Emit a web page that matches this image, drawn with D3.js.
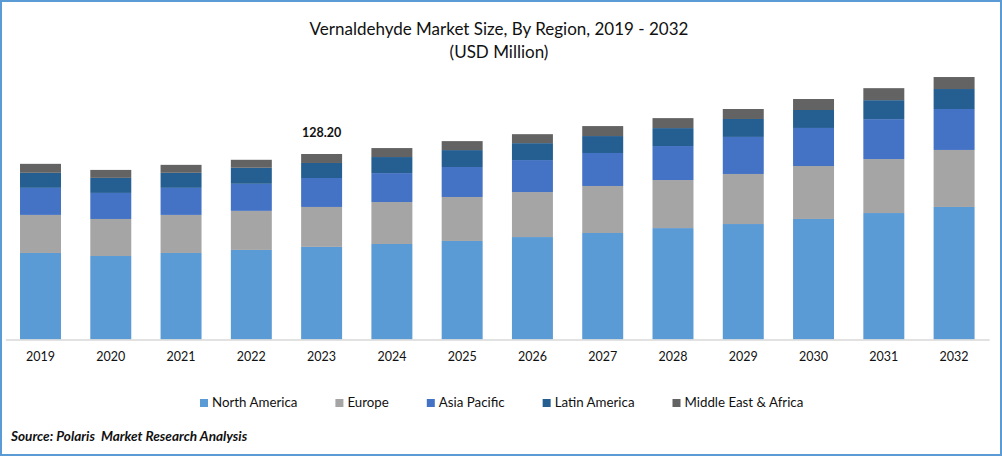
<!DOCTYPE html>
<html>
<head>
<meta charset="utf-8">
<script src="https://cdn.jsdelivr.net/npm/d3@7"></script>
<style>
  html, body { margin: 0; padding: 0; background: #fff; }
  svg { display: block; }
  text { font-family: Lato, "Open Sans", sans-serif; fill: #111; }
</style>
</head>
<body>
<div id="chart"></div>
<script>
const years = ["2019","2020","2021","2022","2023","2024","2025","2026","2027","2028","2029","2030","2031","2032"];
const regions = ["North America","Europe","Asia Pacific","Latin America","Middle East & Africa"];
const colors = ["#5b9bd5","#a5a5a5","#4472c4","#255e91","#636363"];

// USD million
const northAmerica = [59.8,57.7,59.8,61.9,64.0,66.0,68.1,70.8,73.6,77.0,79.8,83.3,87.4,91.6];
const europe = [26.3,25.6,26.3,27.0,27.6,29.0,30.4,31.1,32.5,33.2,34.6,36.6,37.3,39.4];
const asiaPacific = [18.7,18.0,18.7,18.7,20.0,20.0,20.7,22.1,22.8,23.5,25.6,26.3,27.6,28.3];
const latinAmerica = [10.4,10.4,10.4,11.1,10.4,11.1,11.7,11.7,11.7,12.4,12.4,12.4,13.1,13.8];
const middleEast = [6.2,5.5,5.5,5.5,6.2,6.2,6.2,6.2,6.9,6.9,6.9,7.6,8.3,8.3];

const annotatedYear = "2023";
const annotatedLabel = "128.20";

const width = 1002, height = 456;

const table = years.map((y, i) => ({
    year: y,
    "North America": northAmerica[i],
    "Europe": europe[i],
    "Asia Pacific": asiaPacific[i],
    "Latin America": latinAmerica[i],
    "Middle East & Africa": middleEast[i]
}));

const svg = d3.select("#chart").append("svg")
    .attr("width", width)
    .attr("height", height);

svg.append("rect")
    .attr("x", 1).attr("y", 1)
    .attr("width", width - 2).attr("height", height - 2)
    .attr("fill", "#fff")
    .attr("stroke", "#5b9bd5")
    .attr("stroke-width", 2);

const x = d3.scaleBand()
    .domain(years)
    .range([5.4, 989.2])
    .paddingInner(0.417)
    .paddingOuter(0.208);

const y = d3.scaleLinear()
    .domain([0, 128.2])
    .range([339.5, 154]);

const stacked = d3.stack().keys(regions)(table);

svg.selectAll(".series")
    .data(stacked)
    .enter()
    .append("g")
    .attr("class", "series")
    .attr("fill", (d, i) => colors[i])
    .selectAll("rect")
    .data(d => d)
    .enter()
    .append("rect")
    .attr("x", d => x(d.data.year))
    .attr("width", x.bandwidth())
    .attr("y", d => y(d[1]))
    .attr("height", d => y(d[0]) - y(d[1]));

// axis
const xAxis = svg.append("g")
    .attr("transform", `translate(0,${y(0)})`)
    .call(d3.axisBottom(x).tickSize(0).tickPadding(13));
xAxis.select(".domain").attr("stroke", "#d9d9d9").attr("stroke-width", 1.5);
xAxis.selectAll("text")
    .style("font-family", "Lato, sans-serif")
    .style("font-size", "12.5px")
    .attr("fill", "#111");

// the one labelled total
const lastStack = stacked[stacked.length - 1];
const annotated = lastStack.find(d => d.data.year === annotatedYear);
svg.append("text")
    .attr("x", x(annotatedYear) + x.bandwidth() / 2)
    .attr("y", y(annotated[1]) - 17)
    .attr("text-anchor", "middle")
    .style("font-size", "12.5px")
    .style("font-weight", "bold")
    .text(annotatedLabel);

// title
svg.append("text")
    .attr("x", 499).attr("y", 35)
    .attr("text-anchor", "middle")
    .style("font-size", "17px")
    .text("Vernaldehyde Market Size, By Region, 2019 - 2032");
svg.append("text")
    .attr("x", 499).attr("y", 58)
    .attr("text-anchor", "middle")
    .style("font-size", "17px")
    .text("(USD Million)");

// legend, laid out from measured text
const legend = svg.append("g").attr("class", "legend")
    .attr("transform", "translate(200,0)");
const items = legend.selectAll("g")
    .data(regions)
    .enter()
    .append("g");
items.append("rect")
    .attr("y", 399)
    .attr("width", 8).attr("height", 8)
    .attr("fill", (d, i) => colors[i]);
items.append("text")
    .attr("x", 12)
    .attr("y", 407)
    .style("font-size", "13.3px")
    .text(d => d);

let cursor = 0;
items.each(function() {
    const g = d3.select(this);
    g.attr("transform", `translate(${cursor},0)`);
    cursor += 12 + g.select("text").node().getComputedTextLength() + 38;
});

// source
svg.append("text")
    .attr("x", 11).attr("y", 441)
    .style("font-size", "13.6px")
    .style("font-weight", "bold")
    .style("font-style", "italic")
    .style("white-space", "pre")
    .text("Source: Polaris  Market Research Analysis");
</script>
</body>
</html>
